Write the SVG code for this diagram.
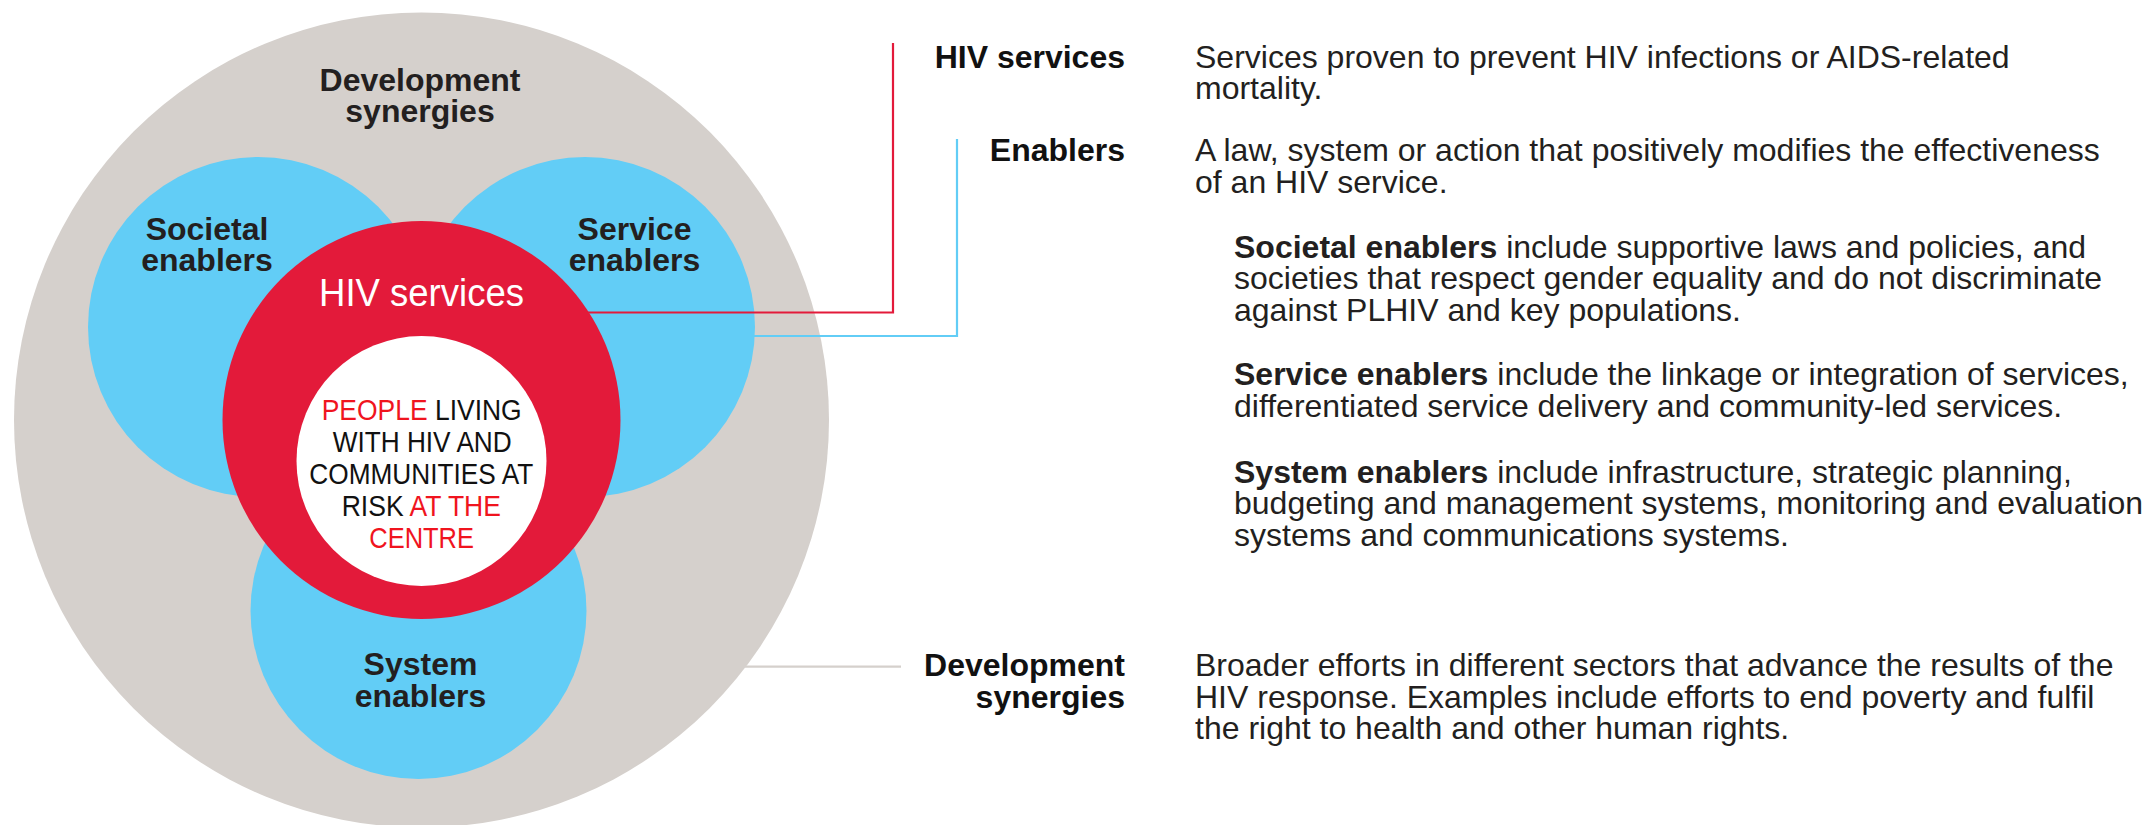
<svg xmlns="http://www.w3.org/2000/svg" width="2143" height="825" viewBox="0 0 2143 825">
<style>
.lbl{font-family:"Liberation Sans",Arial,sans-serif;font-weight:bold;font-size:32px;fill:#231f20;text-anchor:middle}
.hd{font-family:"Liberation Sans",Arial,sans-serif;font-weight:bold;font-size:32px;fill:#111;text-anchor:end}
.ds{font-family:"Liberation Sans",Arial,sans-serif;font-size:32px;fill:#231f20}
.ds .b{font-weight:bold}
.ctr{font-family:"Liberation Sans",Arial,sans-serif;font-size:29px;fill:#111}
.red{fill:#f0141e}
.blue{fill:#62cdf6}
</style>
<rect width="2143" height="825" fill="#ffffff"/>
<g id="development-synergies">
<circle cx="421.5" cy="420" r="407.5" fill="#d5d0cc"/>
<text class="lbl"><tspan x="420" y="90.5">Development</tspan><tspan x="420" y="122">synergies</tspan></text>
</g>
<g id="societal-enablers">
<circle class="blue" cx="258" cy="327" r="170"/>
<text class="lbl"><tspan x="207" y="239.5">Societal</tspan><tspan x="207" y="271">enablers</tspan></text>
</g>
<g id="service-enablers">
<circle class="blue" cx="585" cy="327" r="170"/>
<text class="lbl"><tspan x="634.5" y="239.5">Service</tspan><tspan x="634.5" y="271">enablers</tspan></text>
</g>
<g id="system-enablers">
<circle class="blue" cx="418.5" cy="611" r="168"/>
<text class="lbl"><tspan x="420.5" y="675">System</tspan><tspan x="420.5" y="706.5">enablers</tspan></text>
</g>
<g id="hiv-services">
<circle cx="421.5" cy="420" r="199" fill="#e31a3a"/>
<text x="421.5" y="306" font-family="'Liberation Sans',Arial,sans-serif" font-size="39" fill="#ffffff" text-anchor="middle" textLength="205" lengthAdjust="spacingAndGlyphs">HIV services</text>
</g>
<g id="people-centre">
<circle cx="421.5" cy="461" r="125" fill="#ffffff"/>
<text class="ctr"><tspan x="321.7" y="420" textLength="200" lengthAdjust="spacingAndGlyphs"><tspan class="red">PEOPLE</tspan> LIVING</tspan><tspan x="332.7" y="451.7" textLength="179" lengthAdjust="spacingAndGlyphs">WITH HIV AND</tspan><tspan x="309.3" y="484" textLength="224" lengthAdjust="spacingAndGlyphs">COMMUNITIES AT</tspan><tspan x="341.7" y="516" textLength="159.3" lengthAdjust="spacingAndGlyphs">RISK <tspan class="red">AT THE</tspan></tspan><tspan class="red" x="369.3" y="547.7" textLength="104.7" lengthAdjust="spacingAndGlyphs">CENTRE</tspan></text>
</g>
<g id="connectors" fill="none" stroke-width="2.2">
<polyline points="588,312.5 893,312.5 893,43" stroke="#e31a3a"/>
<polyline points="753,336 957,336 957,139" stroke="#62cdf6"/>
<line x1="745" y1="666.7" x2="901" y2="666.7" stroke="#d5d0cc"/>
</g>
<g id="legend-hiv-services">
<text class="hd" x="1125" y="67.7">HIV services</text>
<text class="ds"><tspan x="1195" y="67.7">Services proven to prevent HIV infections or AIDS-related</tspan><tspan x="1195" y="99.3">mortality.</tspan></text>
</g>
<g id="legend-enablers">
<text class="hd" x="1125" y="161">Enablers</text>
<text class="ds"><tspan x="1195" y="161">A law, system or action that positively modifies the effectiveness</tspan><tspan x="1195" y="192.5">of an HIV service.</tspan></text>
<text class="ds"><tspan x="1234" y="257.5"><tspan class="b">Societal enablers</tspan> include supportive laws and policies, and</tspan><tspan x="1234" y="289">societies that respect gender equality and do not discriminate</tspan><tspan x="1234" y="320.5">against PLHIV and key populations.</tspan></text>
<text class="ds"><tspan x="1234" y="385"><tspan class="b">Service enablers</tspan> include the linkage or integration of services,</tspan><tspan x="1234" y="416.5">differentiated service delivery and community-led services.</tspan></text>
<text class="ds"><tspan x="1234" y="482.5"><tspan class="b">System enablers</tspan> include infrastructure, strategic planning,</tspan><tspan x="1234" y="514">budgeting and management systems, monitoring and evaluation</tspan><tspan x="1234" y="545.5">systems and communications systems.</tspan></text>
</g>
<g id="legend-development-synergies">
<text class="hd"><tspan x="1125" y="676">Development</tspan><tspan x="1125" y="707.5">synergies</tspan></text>
<text class="ds"><tspan x="1195" y="676">Broader efforts in different sectors that advance the results of the</tspan><tspan x="1195" y="707.5">HIV response. Examples include efforts to end poverty and fulfil</tspan><tspan x="1195" y="739">the right to health and other human rights.</tspan></text>
</g>
</svg>
